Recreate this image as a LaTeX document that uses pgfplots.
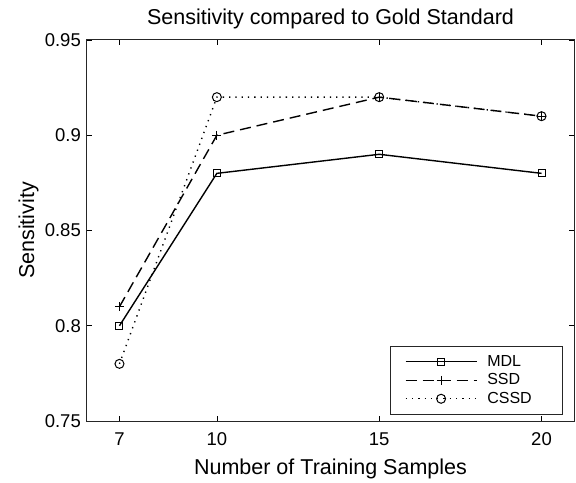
\documentclass[border=0pt]{standalone}
\usepackage{pgfplots}
\pgfplotsset{compat=1.18}
\usepackage{fontspec}
\setmainfont{Liberation Sans}
\begin{document}
\begin{tikzpicture}
\begin{axis}[
  scale only axis, width=487bp, height=381bp,
  xmin=6, xmax=21, ymin=0.75, ymax=0.95,
  xtick={7,10,15,20}, xticklabels={7,10,15,20},
  ytick={0.75,0.8,0.85,0.9,0.95}, yticklabels={0.75,0.8,0.85,0.9,0.95},
  minor tick num=0,
  tick align=inside, major tick length=5bp,
  tick style={black, line width=0.7bp},
  axis line style={line width=1bp, black!85},
  ticklabel style={font=\fontsize{18.5bp}{22bp}\selectfont},
  xticklabel style={anchor=base, yshift=-24bp},
  yticklabel style={inner sep=0pt, xshift=-6bp},
  title={Sensitivity compared to Gold Standard},
  title style={at={(axis description cs:0.5,1.024)}, anchor=base, font=\fontsize{21.5bp}{25bp}\selectfont},
  xlabel={Number of Training Samples},
  xlabel style={at={(axis description cs:0.5,-0.1417)}, anchor=base, font=\fontsize{21.5bp}{25bp}\selectfont},
  ylabel={Sensitivity},
  ylabel style={at={(axis description cs:-0.1088,0.5)}, anchor=base, font=\fontsize{21.5bp}{25bp}\selectfont},
  legend image code/.code={\path (0bp,0bp); \draw[mark repeat=2,mark phase=2,#1] plot coordinates {(14bp,0bp) (49.5bp,0bp) (85bp,0bp)};},
  legend style={at={(axis description cs:0.977,0.0157)}, anchor=south east,
    font=\fontsize{16bp}{19bp}\selectfont, inner xsep=0bp, inner ysep=8bp,
    nodes={inner sep=0bp, text height=12bp, text depth=3.5bp}, column sep=10bp, row sep=3bp, draw=black!85, line width=1bp},
  legend cell align=left,
]
\addplot[black, line width=1.4bp, mark=square, mark size=3.5bp, mark options={solid, line width=1bp}]
  coordinates {(7,0.80) (10,0.88) (15,0.89) (20,0.88)};
\addlegendentry{\makebox[75bp][l]{MDL}}
\addplot[black, line width=1.4bp, dash pattern=on 11bp off 6bp, mark=+, mark size=4.5bp, mark options={solid, line width=1.2bp}]
  coordinates {(7,0.81) (10,0.90) (15,0.92) (20,0.91)};
\addlegendentry{\makebox[75bp][l]{SSD}}
\addplot[black, line width=1.4bp, dash pattern=on 1.3bp off 5bp, mark=o, mark size=4.5bp, mark options={solid, line width=1bp}]
  coordinates {(7,0.78) (10,0.92) (15,0.92) (20,0.91)};
\addlegendentry{\makebox[75bp][l]{CSSD}}
\end{axis}
\path (current axis.south west) ++(-87bp,-59bp) rectangle ++(576bp,480bp);
\end{tikzpicture}
\end{document}
